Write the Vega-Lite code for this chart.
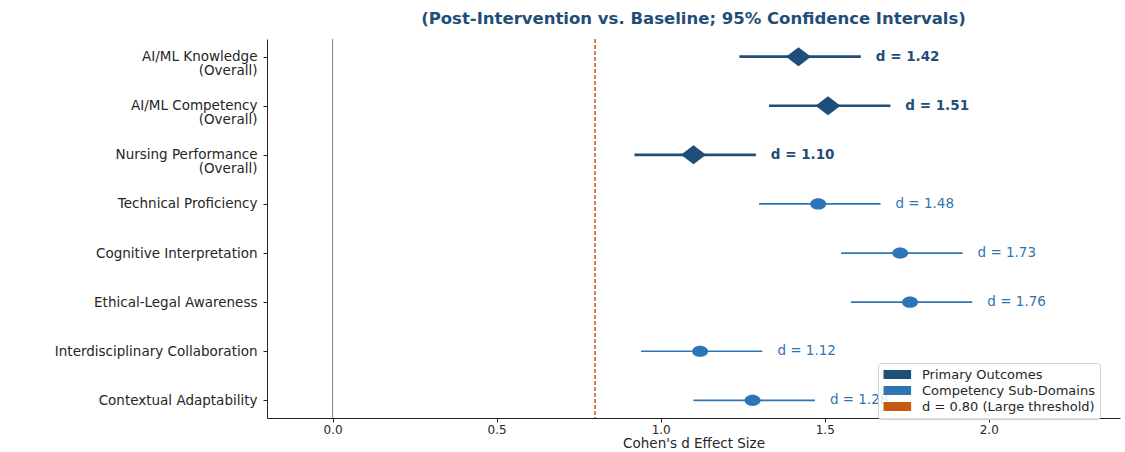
{
  "$schema": "https://vega.github.io/schema/vega-lite/v6.json",
  "width": 853,
  "height": 379,
  "autosize": {"type": "none"},
  "padding": {"left": 267, "top": 39, "right": 5, "bottom": 34},
  "background": "white",
  "config": {
    "font": "DejaVu Sans",
    "view": {"stroke": null},
    "axis": {"grid": false, "domainColor": "#222", "tickColor": "#222", "labelColor": "#262626", "titleColor": "#262626", "labelFont": "DejaVu Sans", "titleFont": "DejaVu Sans", "tickSize": 4, "domainWidth": 1, "tickWidth": 1}
  },
  "title": {
    "text": "(Post-Intervention vs. Baseline; 95% Confidence Intervals)",
    "fontSize": 16.5,
    "fontWeight": "bold",
    "color": "#1f4e79",
    "anchor": "middle",
    "offset": 11,
    "font": "DejaVu Sans"
  },
  "datasets": {
    "effects": [
      {"outcome": "AI/ML Knowledge\n(Overall)", "group": "Primary Outcomes", "d": 1.42, "lo": 1.24, "hi": 1.61, "label": "d = 1.42"},
      {"outcome": "AI/ML Competency\n(Overall)", "group": "Primary Outcomes", "d": 1.51, "lo": 1.33, "hi": 1.70, "label": "d = 1.51"},
      {"outcome": "Nursing Performance\n(Overall)", "group": "Primary Outcomes", "d": 1.10, "lo": 0.92, "hi": 1.29, "label": "d = 1.10"},
      {"outcome": "Technical Proficiency", "group": "Competency Sub-Domains", "d": 1.48, "lo": 1.30, "hi": 1.67, "label": "d = 1.48"},
      {"outcome": "Cognitive Interpretation", "group": "Competency Sub-Domains", "d": 1.73, "lo": 1.55, "hi": 1.92, "label": "d = 1.73"},
      {"outcome": "Ethical-Legal Awareness", "group": "Competency Sub-Domains", "d": 1.76, "lo": 1.58, "hi": 1.95, "label": "d = 1.76"},
      {"outcome": "Interdisciplinary Collaboration", "group": "Competency Sub-Domains", "d": 1.12, "lo": 0.94, "hi": 1.31, "label": "d = 1.12"},
      {"outcome": "Contextual Adaptability", "group": "Competency Sub-Domains", "d": 1.28, "lo": 1.10, "hi": 1.47, "label": "d = 1.28"}
    ],
    "zero": [{"x": 0}],
    "threshold": [{"x": 0.8, "group": "d = 0.80 (Large threshold)"}]
  },
  "data": {"name": "effects"},
  "encoding": {
    "y": {
      "field": "outcome",
      "type": "nominal",
      "sort": null,
      "scale": {"type": "point", "padding": 0.36},
      "axis": {
        "title": null,
        "labelExpr": "split(datum.label, '\\n')",
        "labelFontSize": 13.5,
        "labelPadding": 6,
        "labelLineHeight": 14,
        "labelLimit": 400,
        "labelAlign": "right",
        "encode": {"labels": {"update": {"dy": {"signal": "indexof(datum.value, '\\n') >= 0 ? -7 : 0"}}}}
      }
    }
  },
  "layer": [
    {
      "data": {"name": "zero"},
      "mark": {"type": "rule", "color": "#808080", "strokeWidth": 1},
      "encoding": {
        "x": {"field": "x", "type": "quantitative"},
        "y": null
      }
    },
    {
      "data": {"name": "threshold"},
      "mark": {"type": "rule", "strokeWidth": 1.5, "strokeDash": [4, 2]},
      "encoding": {
        "x": {"field": "x", "type": "quantitative"},
        "y": null,
        "color": {"field": "group", "type": "nominal"}
      }
    },
    {
      "mark": {"type": "rule"},
      "encoding": {
        "x": {"field": "lo", "type": "quantitative"},
        "x2": {"field": "hi"},
        "color": {"field": "group", "type": "nominal"},
        "strokeWidth": {"field": "group", "type": "nominal", "scale": {"domain": ["Primary Outcomes", "Competency Sub-Domains"], "range": [2.6, 1.7]}, "legend": null}
      }
    },
    {
      "mark": {"type": "point", "filled": true, "opacity": 1, "strokeWidth": 0},
      "encoding": {
        "x": {
          "field": "d",
          "type": "quantitative",
          "scale": {"domain": [-0.2, 2.4], "nice": false, "zero": false},
          "axis": {
            "values": [0, 0.5, 1, 1.5, 2],
            "format": ".1f",
            "title": "Cohen's d Effect Size",
            "titleFontSize": 13.5,
            "titleFontWeight": "normal",
            "labelFontSize": 12,
            "labelPadding": 2,
            "titlePadding": 1
          }
        },
        "color": {
          "field": "group",
          "type": "nominal",
          "scale": {
            "domain": ["Primary Outcomes", "Competency Sub-Domains", "d = 0.80 (Large threshold)"],
            "range": ["#1f4e79", "#2e75b6", "#c55a11"]
          },
          "legend": {
            "title": null,
            "orient": "none",
            "legendX": 611,
            "legendY": 324,
            "symbolType": "M-1,-0.75L3.6,-0.75L3.6,0.75L-1,0.75Z",
            "symbolSize": 144,
            "symbolStrokeWidth": 0,
            "symbolOffset": 0,
            "labelFontSize": 13,
            "labelFont": "DejaVu Sans",
            "labelColor": "#262626",
            "labelOffset": 26,
            "labelLimit": 400,
            "rowPadding": 2,
            "padding": 5,
            "fillColor": "rgba(255,255,255,0.85)",
            "strokeColor": "#d0d0d0",
            "cornerRadius": 3,
            "encode": {"symbols": {"update": {"fill": {"scale": "color", "field": "value"}, "fillOpacity": {"value": 1}, "stroke": {"value": "transparent"}}}}
          }
        },
        "shape": {
          "field": "group",
          "type": "nominal",
          "scale": {"domain": ["Primary Outcomes", "Competency Sub-Domains"], "range": ["M-1,0L0,-0.76L1,0L0,0.76Z", "M-1,0A1,0.7,0,1,1,1,0A1,0.7,0,1,1,-1,0Z"]},
          "legend": null
        },
        "size": {
          "field": "group",
          "type": "nominal",
          "scale": {"domain": ["Primary Outcomes", "Competency Sub-Domains"], "range": [625, 256]},
          "legend": null
        }
      }
    },
    {
      "transform": [{"filter": "datum.group == 'Primary Outcomes'"}],
      "mark": {"type": "text", "align": "left", "baseline": "middle", "dx": 15, "fontSize": 13.5, "fontWeight": "bold"},
      "encoding": {
        "x": {"field": "hi", "type": "quantitative"},
        "text": {"field": "label"},
        "color": {"field": "group", "type": "nominal"}
      }
    },
    {
      "transform": [{"filter": "datum.group == 'Competency Sub-Domains'"}],
      "mark": {"type": "text", "align": "left", "baseline": "middle", "dx": 15, "fontSize": 13.5, "fontWeight": "normal"},
      "encoding": {
        "x": {"field": "hi", "type": "quantitative"},
        "text": {"field": "label"},
        "color": {"field": "group", "type": "nominal"}
      }
    }
  ]
}
